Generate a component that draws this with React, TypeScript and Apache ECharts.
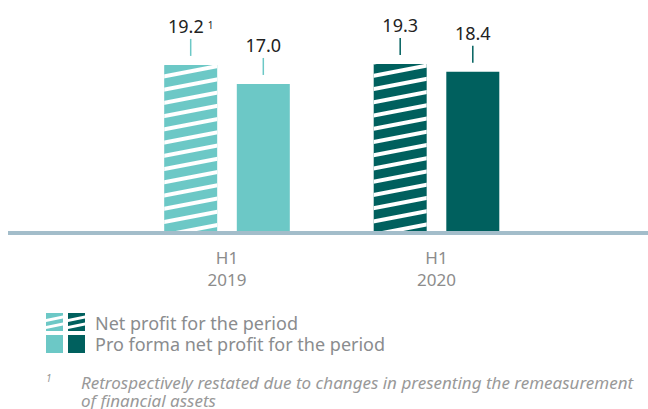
import React, { useEffect, useRef } from 'react';
import * as echarts from 'echarts';

const categories = ['H1\n2019', 'H1\n2020'];
const netProfit = [19.2, 19.3];
const proFormaNetProfit = [17.0, 18.4];
const netProfitNotes = ['1', ''];
const legendLabels = ['Net profit for the period', 'Pro forma net profit for the period'];
const footnoteMark = '1';
const footnoteLines = [
  'Retrospectively restated due to changes in presenting the remeasurement',
  'of financial assets',
];

const LIGHT = '#6cc8c6';
const DARK = '#00605e';
const periodColors = [LIGHT, DARK];
const FONT = 'Noto Sans';

const hatch = {
  symbol: 'rect',
  symbolSize: 1,
  color: '#ffffff',
  dashArrayX: [1, 0],
  dashArrayY: [4, 9],
  rotation: -0.19,
};

const makeLabel = (notes: string[]) => ({
  show: true,
  position: 'top',
  distance: 9,
  formatter: (p: any) => {
    const note = notes ? notes[p.dataIndex] : '';
    return `{v|${Number(p.value).toFixed(1)}}` + (note ? `{s|${note}}` : '') + `\n{l${p.dataIndex}| }`;
  },
  rich: {
    v: { fontFamily: FONT, fontSize: 18, color: '#222222', lineHeight: 26, align: 'center' },
    s: { fontFamily: FONT, fontSize: 10, color: '#222222', verticalAlign: 'top', lineHeight: 14, padding: [7, 0, 0, 4], align: 'center' },
    l0: { width: 1.5, height: 17, lineHeight: 17, backgroundColor: LIGHT, align: 'center' },
    l1: { width: 1.5, height: 17, lineHeight: 17, backgroundColor: DARK, align: 'center' },
  },
});

const legendIcon = (x: number, y: number, color: string, hatched: boolean) => {
  const children: any[] = [
    { type: 'rect', shape: { x: 0, y: 0, width: 17, height: 18 }, style: { fill: color } },
  ];
  if (hatched) {
    children.push(
      { type: 'polygon', shape: { points: [[0, 6], [17, 2.5], [17, 5.5], [0, 9]] }, style: { fill: '#fff' } },
      { type: 'polygon', shape: { points: [[0, 13], [17, 9.5], [17, 12.5], [0, 16]] }, style: { fill: '#fff' } }
    );
  }
  return { type: 'group', x, y, children, z: 10 };
};

export default function App() {
  const ref = useRef<HTMLDivElement>(null);
  useEffect(() => {
    if (!ref.current) return;
    const chart = echarts.init(ref.current, null, { renderer: 'svg' });
    chart.setOption({
      animation: false,
      backgroundColor: '#ffffff',
      grid: { left: 122.25, right: 106.75, top: 58, bottom: 178 },
      xAxis: {
        type: 'category',
        data: categories,
        axisLine: { show: false },
        axisTick: { show: false },
        axisLabel: { fontFamily: FONT, fontSize: 17, color: '#8c8c8c', lineHeight: 22, margin: 15 },
      },
      yAxis: { type: 'value', min: 0, max: 20, show: false, splitLine: { show: false } },
      series: [
        {
          name: legendLabels[0],
          type: 'bar',
          barWidth: 53,
          barGap: '37%',
          data: netProfit.map((v, i) => ({
            value: v,
            itemStyle: { color: periodColors[i], decal: hatch },
          })),
          label: makeLabel(netProfitNotes),
        },
        {
          name: legendLabels[1],
          type: 'bar',
          barWidth: 53,
          data: proFormaNetProfit.map((v, i) => ({ value: v, itemStyle: { color: periodColors[i] } })),
          label: makeLabel(['', '']),
        },
      ],
      graphic: [
        { type: 'rect', shape: { x: 8, y: 231, width: 640, height: 4 }, style: { fill: '#a3bdca' }, z: 20 },
        legendIcon(46, 313, LIGHT, true),
        legendIcon(68, 313, DARK, true),
        legendIcon(46, 335, LIGHT, false),
        legendIcon(68, 335, DARK, false),
        {
          type: 'text', x: 95, y: 323,
          style: { text: legendLabels[0], fontFamily: FONT, fontSize: 18, lineHeight: 20, fill: '#8a8c8e', verticalAlign: 'middle' },
        },
        {
          type: 'text', x: 95, y: 344,
          style: { text: legendLabels[1], fontFamily: FONT, fontSize: 18, lineHeight: 20, fill: '#8a8c8e', verticalAlign: 'middle' },
        },
        {
          type: 'text', x: 46, y: 378,
          style: { text: footnoteMark, fontFamily: FONT, fontSize: 10, fontStyle: 'italic', fill: '#999999', verticalAlign: 'middle' },
        },
        {
          type: 'text', x: 81, y: 382,
          style: { text: footnoteLines[0], fontFamily: FONT, fontSize: 17, lineHeight: 18, fontStyle: 'italic', fill: '#999999', verticalAlign: 'middle' },
        },
        {
          type: 'text', x: 81, y: 400,
          style: { text: footnoteLines[1], fontFamily: FONT, fontSize: 17, lineHeight: 18, fontStyle: 'italic', fill: '#999999', verticalAlign: 'middle' },
        },
      ],
    });
    return () => chart.dispose();
  }, []);
  return <div ref={ref} style={{ width: 648, height: 409, position: 'absolute', left: 0, top: 0 }} />;
}
